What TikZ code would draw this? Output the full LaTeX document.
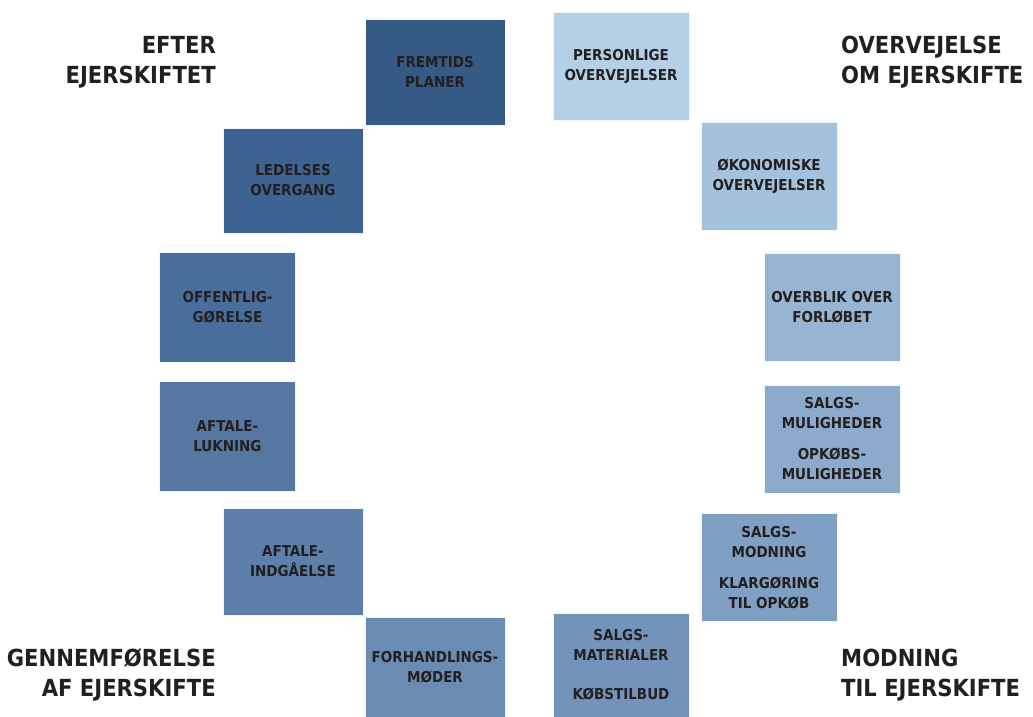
\documentclass[tikz,border=0pt]{standalone}
\usepackage{fontspec}
\setmainfont{DejaVu Sans Condensed}
\usetikzlibrary{positioning}
\usepackage{xcolor}
\definecolor{txtgray}{HTML}{231F20}
\definecolor{fase1}{HTML}{B4D0E6}
\definecolor{fase2}{HTML}{A4C2DC}
\definecolor{fase3}{HTML}{97B5D3}
\definecolor{fase4}{HTML}{8CAACB}
\definecolor{fase5}{HTML}{7F9FC4}
\definecolor{fase6}{HTML}{7393BA}
\definecolor{fase7}{HTML}{6A8BB3}
\definecolor{fase8}{HTML}{5D80AA}
\definecolor{fase9}{HTML}{5577A2}
\definecolor{fase10}{HTML}{4A6E9B}
\definecolor{fase11}{HTML}{3D6392}
\definecolor{fase12}{HTML}{345A85}

\begin{document}
\begin{tikzpicture}[
		x=1pt, y=-1pt,
		box/.style={
			rectangle,
			draw=white!80!fase1,
			line width=0.6pt,
			minimum width=136pt,
			minimum height=108pt,
			align=center,
			text=txtgray,
			font=\fontsize{15}{20}\selectfont\bfseries,
			inner sep=2pt
		},
		fase/.style={
			inner sep=0pt,
			text=txtgray,
			font=\fontsize{23.5}{30}\selectfont\bfseries
		}
		]
		
		\useasboundingbox (0,0) rectangle (1033,717);
		
		% right side
		\node[box, fill=fase1] (personlige) at (621,66.5) {
			PERSONLIGE\\OVERVEJELSER
		};
		
		\node[box, fill=fase2] (oekonomiske) at (769,176.5) {
			ØKONOMISKE\\OVERVEJELSER
		};
		
		\node[box, fill=fase3] (overblik) at (832,307.5) {
			OVERBLIK OVER\\FORLØBET
		};
		
		\node[box, fill=fase4] (muligheder) at (832,439) {
			SALGS-\\MULIGHEDER\\[11pt]
			OPKØBS-\\MULIGHEDER
		};
		
		\node[box, fill=fase5] (modning) at (769,567.5) {
			SALGS-\\MODNING\\[11pt]
			KLARGØRING\\TIL OPKØB
		};
		
		\node[box, fill=fase6, minimum height=104pt] (materialer) at (621,665) {
			SALGS-\\MATERIALER\\[19pt]
			KØBSTILBUD
		};
		
		% left side
		\node[box, fill=fase7, minimum width=140pt, minimum height=100pt] (forhandling) at (435,667) {
			FORHANDLINGS-\\MØDER
		};
		
		\node[box, fill=fase8, minimum width=140pt, minimum height=107pt] (indgaaelse) at (293,561.5) {
			AFTALE-\\INDGÅELSE
		};
		
		\node[box, fill=fase9, minimum height=110pt] (lukning) at (227.5,436) {
			AFTALE-\\LUKNING
		};
		
		\node[box, fill=fase10, minimum height=110pt] (offentlig) at (227.5,307) {
			OFFENTLIG-\\GØRELSE
		};
		
		\node[box, fill=fase11, minimum width=140pt, minimum height=105pt] (ledelse) at (293,180.5) {
			LEDELSES\\OVERGANG
		};
		
		\node[box, fill=fase12, minimum width=140pt, minimum height=106pt] (fremtid) at (435,72) {
			FREMTIDS\\PLANER
		};
		
		% phases
		\node[fase, anchor=east, align=right] (efter) at (216,62) {EFTER\\EJERSKIFTET};
		\node[fase, anchor=west, align=left] (overvejelse) at (841,62) {OVERVEJELSE\\OM EJERSKIFTE};
		\node[fase, anchor=east, align=right] (gennemfoer) at (216,675) {GENNEMFØRELSE\\AF EJERSKIFTE};
		\node[fase, anchor=west, align=left] (modningfase) at (841,675) {MODNING\\TIL EJERSKIFTE};
		
	\end{tikzpicture}
\end{document}
